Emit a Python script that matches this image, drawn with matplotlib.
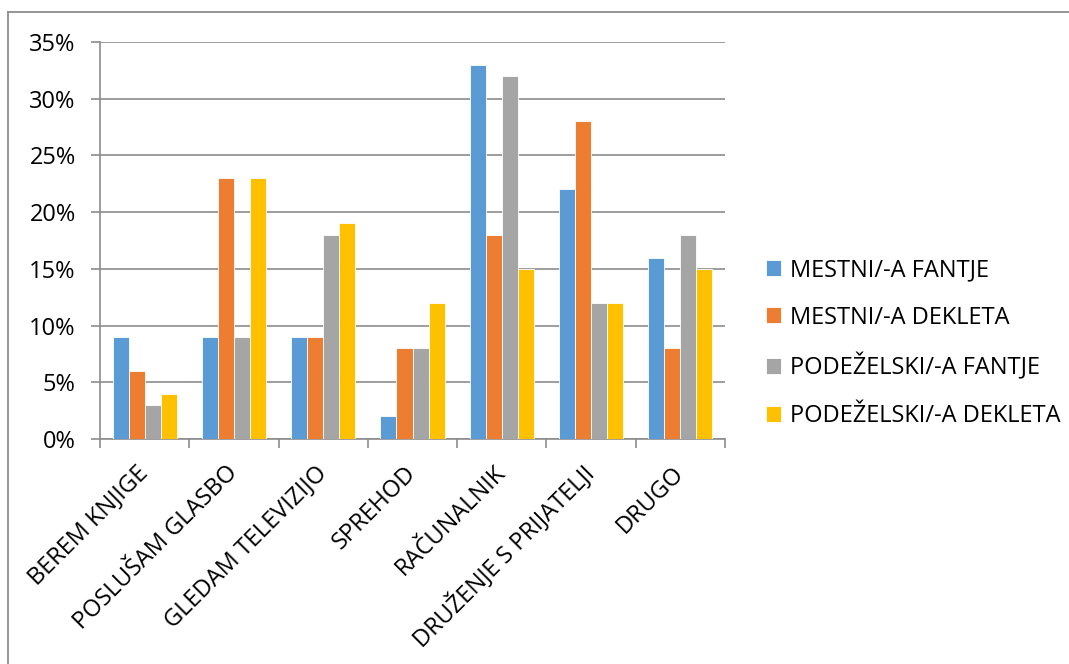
import matplotlib
matplotlib.use("Agg")
import matplotlib.pyplot as plt
import numpy as np
from matplotlib.lines import Line2D
from matplotlib.ticker import FuncFormatter, MultipleLocator, FixedLocator

categories = ["BEREM KNJIGE", "POSLUŠAM GLASBO", "GLEDAM TELEVIZIJO", "SPREHOD",
              "RAČUNALNIK", "DRUŽENJE S PRIJATELJI", "DRUGO"]
series_names = ["MESTNI/-A FANTJE", "MESTNI/-A DEKLETA",
                "PODEŽELSKI/-A FANTJE", "PODEŽELSKI/-A DEKLETA"]
mestni_fantje = [9, 9, 9, 2, 33, 22, 16]
mestni_dekleta = [6, 23, 9, 8, 18, 28, 8]
podezelski_fantje = [3, 9, 18, 8, 32, 12, 18]
podezelski_dekleta = [4, 23, 19, 12, 15, 12, 15]
colors = ["#5B9BD5", "#ED7D31", "#A5A5A5", "#FFC000"]

plt.rcParams['font.family'] = ['Open Sans', 'DejaVu Sans']
FS = 17

W, H = 1069, 664
fig = plt.figure(figsize=(W / 100, H / 100), dpi=100)
# outer frame: top and left edges only visible
fig.add_artist(Line2D([8 / W, 1.0], [1 - 12 / H, 1 - 12 / H], transform=fig.transFigure,
                      color="#8c8c8c", lw=1.3))
fig.add_artist(Line2D([8 / W, 8 / W], [0.0, 1 - 12 / H], transform=fig.transFigure,
                      color="#8c8c8c", lw=1.3))

ax = fig.add_axes([100 / W, 1 - 439 / H, (725 - 100) / W, (439 - 42) / H])

data = [mestni_fantje, mestni_dekleta, podezelski_fantje, podezelski_dekleta]
x = np.arange(len(categories))
w = 0.18
for i, (vals, c, name) in enumerate(zip(data, colors, series_names)):
    ax.bar(x + (i - 1.5) * w, vals, width=w, color=c, label=name,
           edgecolor="white", linewidth=0.6, zorder=3)

ax.set_xlim(-0.5, len(categories) - 0.5)
ax.set_ylim(0, 35)
ax.yaxis.set_major_locator(MultipleLocator(5))
ax.yaxis.set_major_formatter(FuncFormatter(lambda v, p: f"{int(v)}%"))
ax.grid(axis="y", color="#8c8c8c", lw=1.2, zorder=0)
ax.set_axisbelow(True)
for s in ["top", "right"]:
    ax.spines[s].set_visible(False)
for s in ["left", "bottom"]:
    ax.spines[s].set_color("#8c8c8c")
    ax.spines[s].set_linewidth(1.2)

ax.set_xticks(x)
ax.set_xticklabels(categories, rotation=45, ha="right", va="center",
                   rotation_mode="anchor", fontsize=FS)
ax.tick_params(axis="x", length=0, pad=22)
ax.xaxis.set_minor_locator(FixedLocator(np.arange(-0.5, len(categories), 1.0)))
ax.tick_params(axis="x", which="minor", length=6.5, color="#8c8c8c", width=1.2)
ax.tick_params(axis="y", length=6.5, color="#8c8c8c", width=1.2, labelsize=FS, pad=11)

handles, labels = ax.get_legend_handles_labels()
fig.legend(handles, labels, loc="center left", bbox_to_anchor=(766 / W, 1 - 343 / H),
           frameon=False, fontsize=FS, handlelength=0.65, handleheight=0.65,
           labelspacing=1.0, handletextpad=0.35, borderaxespad=0, borderpad=0)

fig.savefig("out.png", dpi=100)
